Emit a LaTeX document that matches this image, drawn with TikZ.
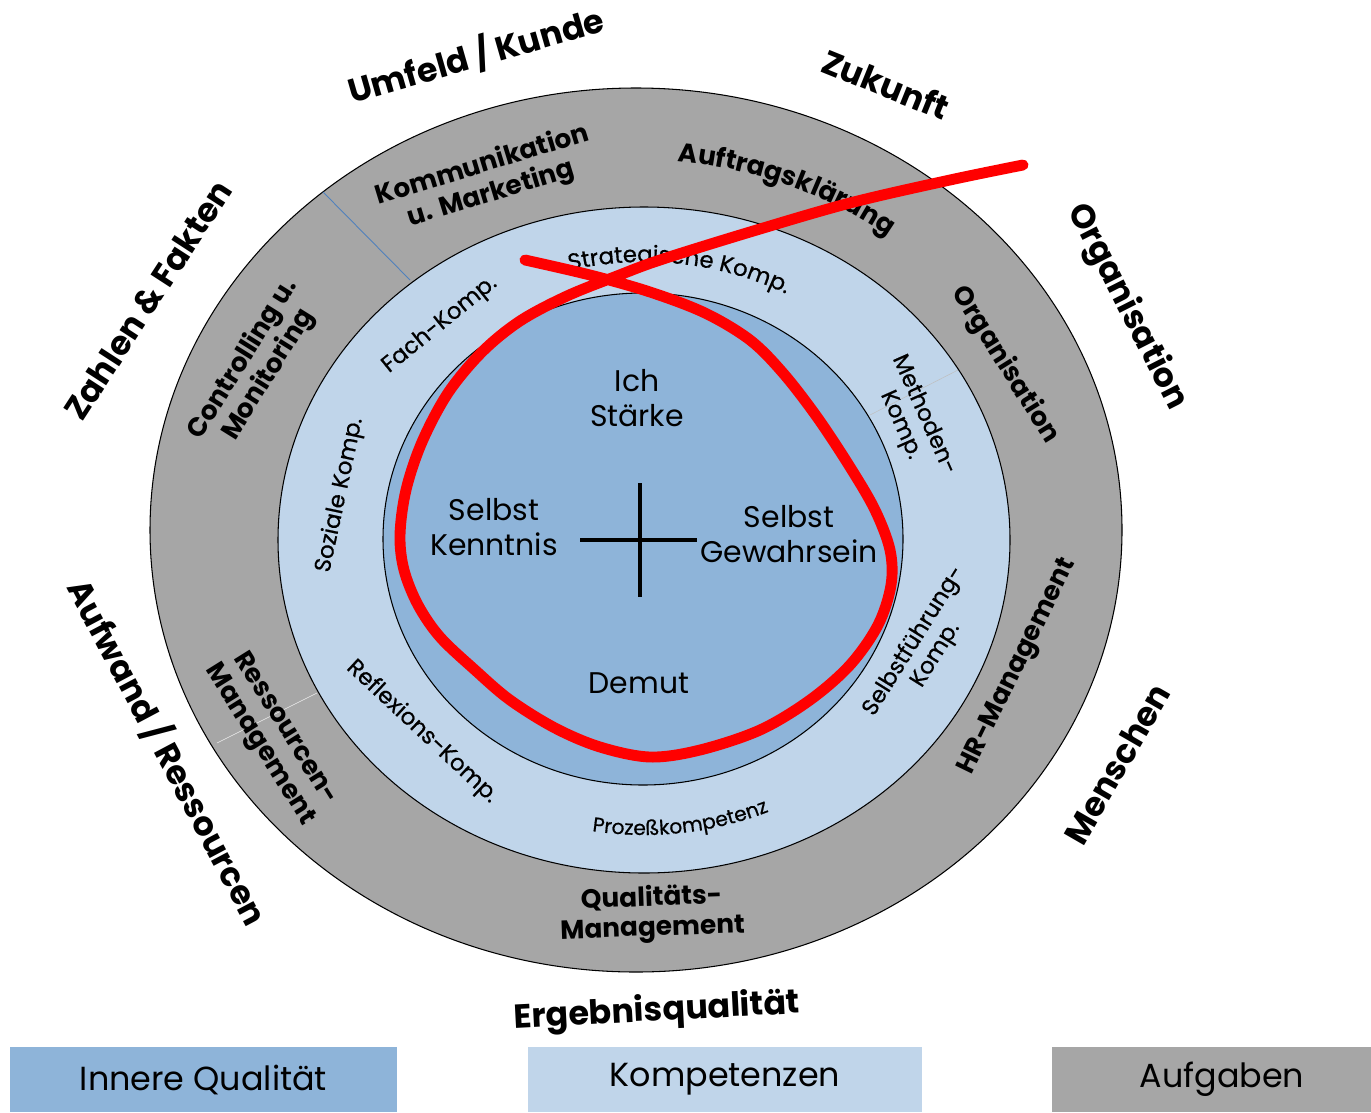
\documentclass[tikz,border=0pt]{standalone}
\usepackage{fontspec}
\setmainfont{Poppins}
\newfontfamily\skillfont{Poppins}[FakeBold=0.6]
\usetikzlibrary{decorations.text}
\definecolor{taskgray}{RGB}{166,166,166}
\definecolor{skillblue}{RGB}{192,213,234}
\definecolor{innerblue}{RGB}{142,180,217}
\definecolor{dividerblue}{RGB}{79,129,189}
\definecolor{signalred}{RGB}{255,0,0}

\begin{document}
\begin{tikzpicture}[
    x=0.02cm, y=-0.02cm,
    ring/.style={draw=black, line width=0.6pt},
    outerlbl/.style={font=\fontsize{19}{23}\selectfont\bfseries, inner sep=0pt},
    tasklbl/.style={font=\fontsize{15}{17}\selectfont\bfseries, align=center, inner sep=0pt},
    skilllbl/.style={font=\skillfont\fontsize{13}{14.5}\selectfont, align=center, inner sep=0pt},
    corelbl/.style={font=\fontsize{17}{20}\selectfont, align=center, inner sep=0pt},
    legendbox/.style={minimum height=1.3cm, inner sep=0pt, font=\fontsize{19}{22}\selectfont},
    redline/.style={draw=signalred, line width=6.2pt, line cap=round, line join=round},
    crossbar/.style={line width=2.2pt},
]
\useasboundingbox[fill=white] (0,0) rectangle (1371,1112);

% Rings
\draw[ring, fill=taskgray] (636,530) ellipse [x radius=486, y radius=442];
\draw[ring, fill=skillblue] (644,540) ellipse [x radius=366, y radius=333];
\draw[ring, fill=innerblue] (643,539) ellipse [x radius=260, y radius=246];

\draw[dividerblue, line width=0.5pt] (323,192) -- (410,280);
\draw[black!25, line width=0.3pt] (870,415) -- (958,370);
\draw[white!80!taskgray, line width=0.3pt] (217,743) -- (317,693);

% Outer labels
\node[outerlbl, rotate=16] (umfeld) at (476,55) {Umfeld / Kunde};
\node[outerlbl, rotate=-22] (zukunft) at (886,84) {Zukunft};
\node[outerlbl, rotate=-63] (orgout) at (1127,307) {Organisation};
\node[outerlbl, rotate=60] (menschen) at (1117,764) {Menschen};
\node[outerlbl, rotate=3] (ergebnis) at (657,1012) {Ergebnisqualität};
\node[outerlbl, rotate=-62] (aufwand) at (168,752) {Aufwand / Ressourcen};
\node[outerlbl, rotate=57] (zahlen) at (148,300) {Zahlen \& Fakten};

% Aufgaben (gray ring)
\node[tasklbl, rotate=17] (kommunikation) at (487,180) {Kommunikation\\u. Marketing};
\path[decorate, decoration={text along path, text align=center,
    text={|\fontsize{15}{17}\selectfont\bfseries|Auftragsklärung}}]
    plot[domain=113:23, samples=60] ({640+410*cos(\x)}, {535-375*sin(\x)});
\node[tasklbl, rotate=-58] (orgin) at (1005,365) {Organisation};
\node[tasklbl, rotate=64] (hr) at (1018,667) {HR-Management};
\node[tasklbl, rotate=2] (qm) at (652,914) {Qualitäts-\\Management};
\node[tasklbl, rotate=-58] (rm) at (272,737) {Ressourcen-\\Management};
\node[tasklbl, rotate=58] (controlling) at (256,367) {Controlling u.\\Monitoring};

% Kompetenzen (light ring)
\path[decorate, decoration={text along path, text align=center,
    text={|\skillfont\fontsize{13}{14.5}\selectfont|Strategische Komp.}}]
    plot[domain=123:43, samples=60] ({644+306*cos(\x)}, {540-278*sin(\x)});
\node[skilllbl, rotate=39] (fach) at (440,325) {Fach-Komp.};
\node[skilllbl, rotate=78] (sozial) at (340,495) {Soziale Komp.};
\node[skilllbl, rotate=-66] (methoden) at (912,420) {Methoden-\\Komp.};
\node[skilllbl, rotate=58] (selbstf) at (925,648) {Selbstführung-\\Komp.};
\node[skilllbl, rotate=-43] (reflexion) at (422,732) {Reflexions-Komp.};
\path[decorate, decoration={text along path, text align=center,
    text={|\skillfont\fontsize{11.5}{13}\selectfont|Prozeßkompetenz}}]
    plot[domain=-123:-43, samples=60] ({644+320*cos(\x)}, {540-295*sin(\x)});

% Innere Qualitaet (core)
\node[corelbl] (ich) at (637,398) {Ich\\Stärke};
\node[corelbl] (kenntnis) at (494,527) {Selbst\\Kenntnis};
\node[corelbl] (gewahr) at (789,534) {Selbst\\Gewahrsein};
\node[corelbl] (demut) at (639,683) {Demut};
\draw[crossbar] (580,540) -- (697,540);
\draw[crossbar] (640,483) -- (640,597);

% Red stroke
\draw[redline] plot[smooth, tension=0.55] coordinates {
    (525,260) (590,275) (650,292) (705,313) (750,340) (783,373) (817,417)
    (850,467) (875,510) (890,550) (891,585) (878,625) (850,665) (810,700)
    (760,730) (700,750) (650,757) (600,747) (555,728) (510,700) (475,670)
    (440,637) (418,605) (404,570) (400,535) (406,490) (422,442) (448,393)
    (482,352) (520,321) (567,296) (617,276) (660,260) (750,232) (850,203)
    (950,180) (1023,165)};

% Legend
\node[legendbox, fill=innerblue, minimum width=7.74cm] (innerkey) at (203.5,1079.5) {Innere Qualität};
\node[legendbox, fill=skillblue, minimum width=7.88cm] (skillkey) at (725,1079) {Kompetenzen};
\node[legendbox, fill=taskgray, minimum width=6.8cm] (taskkey) at (1222,1079.5) {Aufgaben};

\end{tikzpicture}
\end{document}
